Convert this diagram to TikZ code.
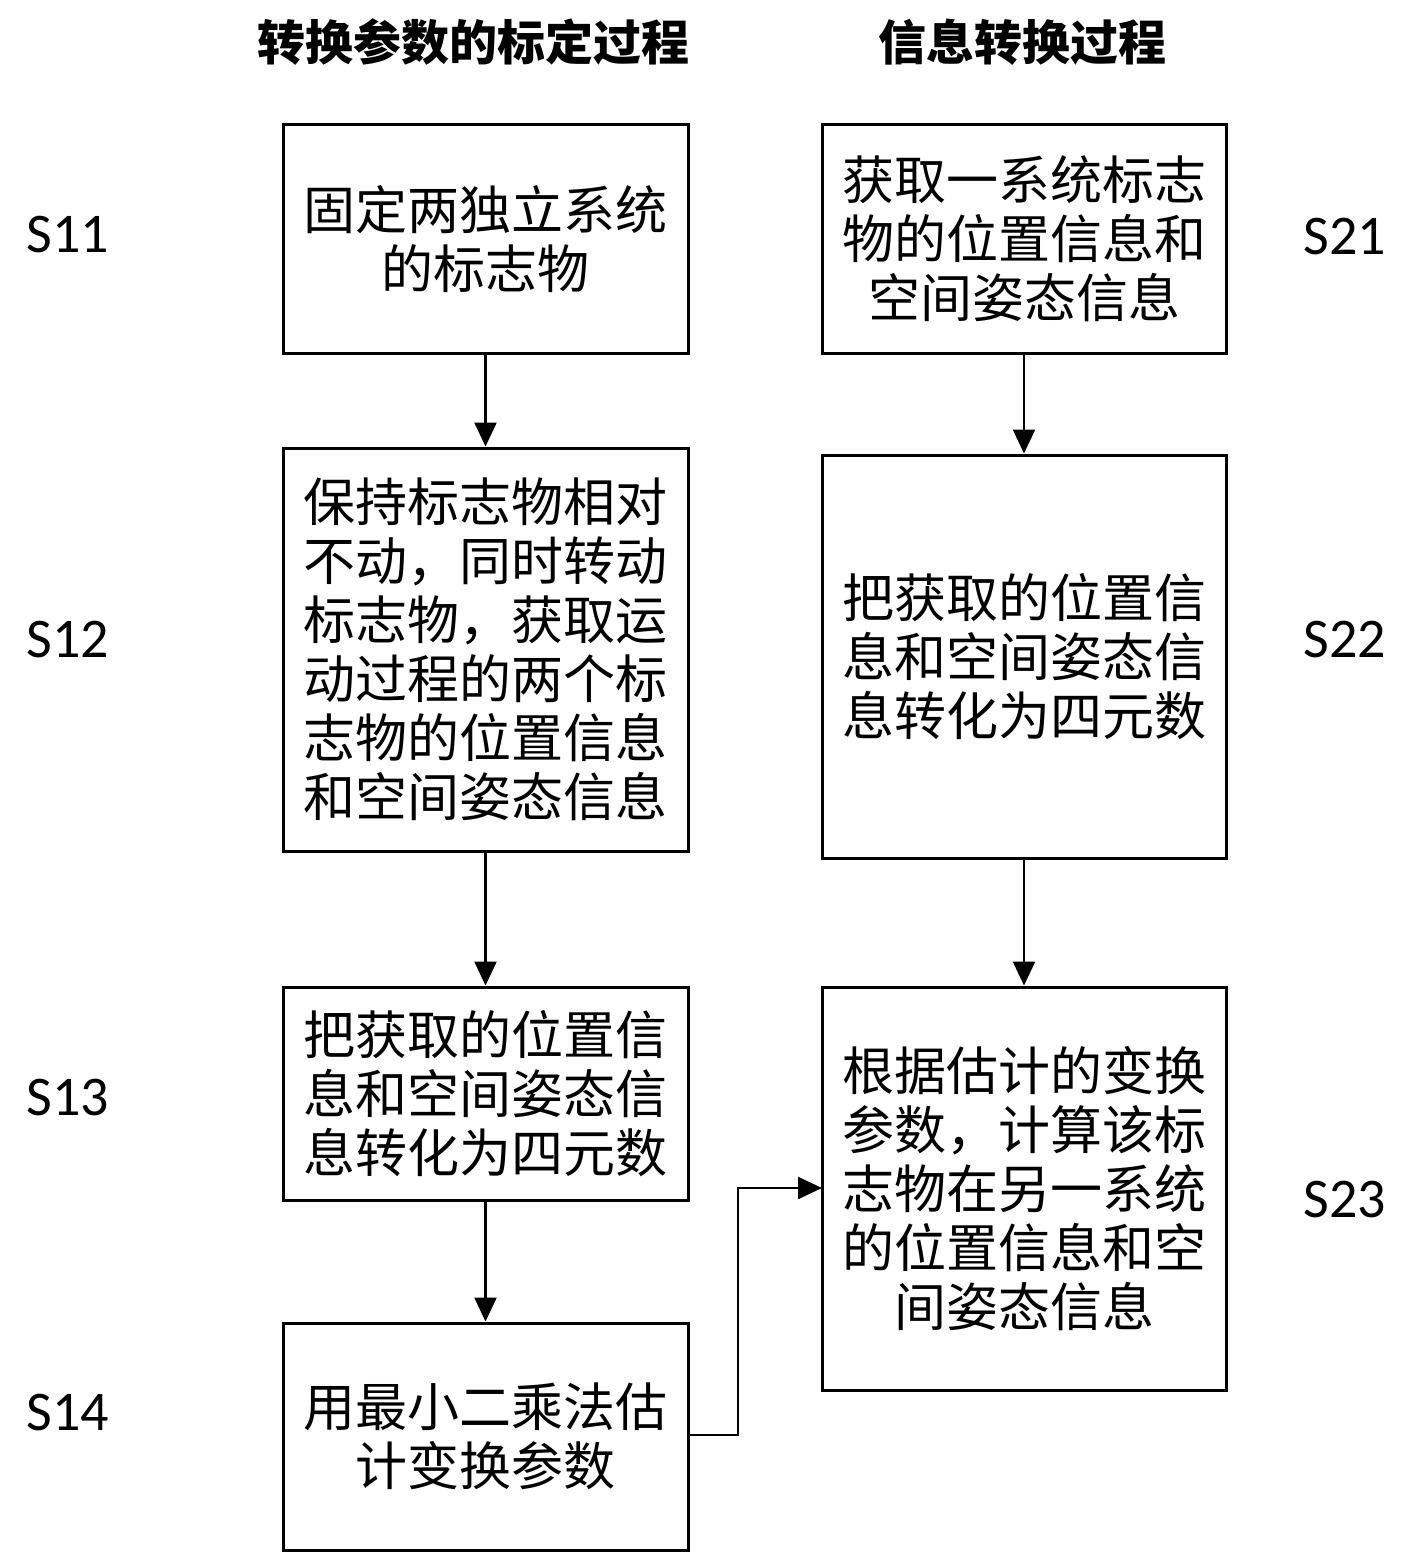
\documentclass[tikz,border=0pt]{standalone}
\usepackage{fontspec}
\newfontfamily\cjk{Noto Sans CJK SC}
\newfontfamily\lat{Carlito}
\usetikzlibrary{arrows.meta}
\begin{document}
\begin{tikzpicture}[x=0.5pt,y=-0.5pt,
  box/.style={draw,line width=1.5pt,inner sep=0pt,align=center,font=\cjk\fontsize{26}{29.5}\selectfont},
  lab/.style={font=\lat\fontsize{28}{30}\selectfont},
  ttl/.style={font=\cjk\bfseries\fontsize{24}{28}\selectfont},
  arr/.style={line width=1.2pt,-{Triangle[length=12pt,width=11pt]}}]
\useasboundingbox (0,0) rectangle (1402,1568);
\node[ttl] (t1) at (473,42) {转换参数的标定过程};
\node[ttl] (t2) at (1022,42) {信息转换过程};
\newcommand\mybox[6]{\node[box,minimum width=(#4-#2)*0.5pt,minimum height=(#5-#3)*0.5pt] (#1) at ({(#2+#4)/2},{(#3+#5)/2}) {#6};}
\mybox{a}{283}{125}{688}{353}{固定两独立系统\\的标志物}
\mybox{b}{283}{448}{688}{851}{保持标志物相对\\不动，同时转动\\标志物，获取运\\动过程的两个标\\志物的位置信息\\和空间姿态信息}
\mybox{c}{283}{987}{688}{1200}{把获取的位置信\\息和空间姿态信\\息转化为四元数}
\mybox{d}{283}{1323}{688}{1550}{用最小二乘法估\\计变换参数}
\mybox{e}{822}{125}{1226}{353}{获取一系统标志\\物的位置信息和\\空间姿态信息}
\mybox{f}{822}{455}{1226}{858}{把获取的位置信\\息和空间姿态信\\息转化为四元数}
\mybox{g}{822}{987}{1226}{1390}{根据估计的变换\\参数，计算该标\\志物在另一系统\\的位置信息和空\\间姿态信息}
\node[lab] (l1) at (68,235) {S11};
\node[lab] (l2) at (68,640) {S12};
\node[lab] (l3) at (68,1098) {S13};
\node[lab] (l4) at (68,1413) {S14};
\node[lab] (l5) at (1345,237) {S21};
\node[lab] (l6) at (1345,640) {S22};
\node[lab] (l7) at (1345,1200) {S23};
\draw[arr] (a) -- (b);
\draw[arr] (b) -- (c);
\draw[arr] (c) -- (d);
\draw[arr] (e) -- (f);
\draw[arr] (f) -- (g);
\coordinate (p1) at (738,1435);
\coordinate (p2) at (738,1188);
\coordinate (p3) at (822,1188);
\draw[arr] (d.east |- p1) -- (p1) -- (p2) -- (p3);
\end{tikzpicture}
\end{document}
